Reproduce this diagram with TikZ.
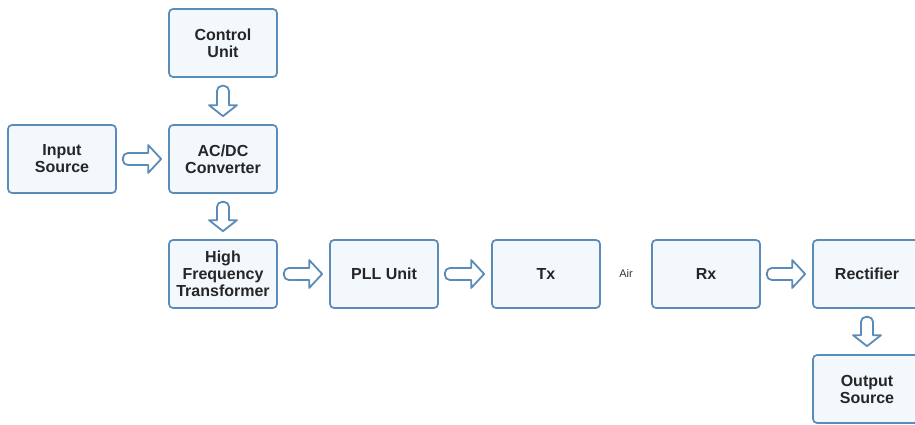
\documentclass[tikz,border=0pt]{standalone}
\usepackage{fontspec}
\setmainfont{Liberation Sans}
\usetikzlibrary{calc}
\definecolor{bxline}{HTML}{5B8CB8}
\definecolor{bxfill}{HTML}{F3F8FC}
% hollow block arrow, left to right
\newcommand{\harrow}[2]{\draw[fa] ($(#1.east)+(6,6)$) -- ($(#2.west)+(-20,6)$) -- ($(#2.west)+(-20,14)$) -- ($(#2.west)+(-7,0)$) -- ($(#2.west)+(-20,-14)$) -- ($(#2.west)+(-20,-6)$) [rounded corners=5pt] -- ($(#1.east)+(6,-6)$) -- cycle;}
% hollow block arrow, top to bottom
\newcommand{\varrow}[2]{\draw[fa] ($(#1.south)+(-6,-8)$) -- ($(#2.north)+(-6,19)$) -- ($(#2.north)+(-14,19)$) -- ($(#2.north)+(0,8)$) -- ($(#2.north)+(14,19)$) -- ($(#2.north)+(6,19)$) [rounded corners=5pt] -- ($(#1.south)+(6,-8)$) -- cycle;}
\begin{document}
\begin{tikzpicture}[x=1pt,y=1pt]
\tikzstyle{bx} = [rectangle,rounded corners=4pt,draw=bxline,fill=bxfill,line width=1.7pt,minimum width=108pt,minimum height=68pt,align=center,text=black!85,font=\fontsize{16}{17}\selectfont\bfseries] %block
\tikzstyle{fa} = [draw=bxline,fill=white,line width=1.8pt,line join=round] %fat arrow
\clip (0,0) rectangle (915,424);
\node[bx](vin)at(62,265){Input\\Source};
\node[bx](vctl)at(223,381){Control\\Unit};
\node[bx](vac)at(223,265){AC/DC\\Converter};
\node[bx](vhft)at(223,150){High\\Frequency\\Transformer};
\node[bx](vpll)at(384,150){PLL Unit};
\node[bx](vtx)at(546,150){Tx};
\node[bx](vrx)at(706,150){Rx};
\node[bx](vrec)at(867,150){Rectifier};
\node[bx](vout)at(867,35){Output\\Source};
\node[font=\fontsize{11}{12}\selectfont,text=black!80](vair)at($(vtx.east)!0.5!(vrx.west)$){Air};
\varrow{vctl}{vac}
\harrow{vin}{vac}
\varrow{vac}{vhft}
\harrow{vhft}{vpll}
\harrow{vpll}{vtx}
\harrow{vrx}{vrec}
\varrow{vrec}{vout}
\end{tikzpicture}
\end{document}
